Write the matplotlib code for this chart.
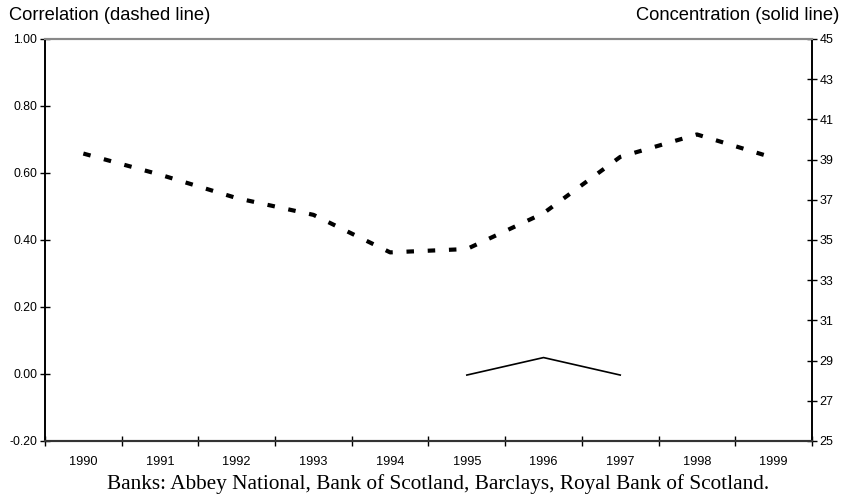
import matplotlib
matplotlib.use('Agg')
import matplotlib.pyplot as plt
import numpy as np

# Data
years = ['1990', '1991', '1992', '1993', '1994', '1995', '1996', '1997', '1998', '1999']
correlation = [0.658, 0.595, 0.525, 0.475, 0.363, 0.373, 0.48, 0.648, 0.715, 0.645]
conc_years = ['1995', '1996', '1997']
concentration = [28.28, 29.15, 28.28]

plt.rcParams['font.family'] = ['Liberation Sans', 'DejaVu Sans']

fig = plt.figure(figsize=(8.41, 5.03), dpi=100)
ax = fig.add_axes([0.0535, 0.1233, 0.912, 0.7992])
ax2 = ax.twinx()

x = np.arange(len(years))
ax.plot(x, correlation, color='black', lw=3.0, linestyle=(0, (1.8, 3.3)),
        dash_capstyle='butt', solid_joinstyle='miter')

xc = [years.index(y) for y in conc_years]
ax2.plot(xc, concentration, color='black', lw=1.2)

# axes ranges
ax.set_xlim(-0.5, len(years) - 0.5)
ax.set_ylim(-0.2, 1.0)
ax2.set_ylim(25, 45)

# left ticks
ax.set_yticks(np.arange(-0.2, 1.01, 0.2))
ax.set_yticklabels(['%.2f' % v for v in np.arange(-0.2, 1.01, 0.2)])
ax.tick_params(axis='y', direction='inout', length=7, width=1, labelsize=8.8, pad=2)

# right ticks
ax2.set_yticks(np.arange(25, 46, 2))
ax2.tick_params(axis='y', direction='inout', length=7, width=1, labelsize=9, pad=2)

# categories: ticks between, labels at centres
ax.set_xticks(np.arange(-0.5, len(years), 1.0))
ax.set_xticklabels([])
ax.set_xticks(x, minor=True)
ax.set_xticklabels(years, minor=True)
ax.tick_params(axis='x', which='major', direction='inout', length=7, width=1)
ax.tick_params(axis='x', which='minor', length=0, labelsize=9.2, pad=11)

for a in (ax, ax2):
    a.spines['top'].set_color('#888888')
    a.spines['top'].set_linewidth(1.5)
    a.spines['bottom'].set_color('#333333')
    a.spines['bottom'].set_linewidth(1.5)
    a.spines['left'].set_linewidth(1.2)
    a.spines['right'].set_linewidth(1.2)

fig.text(0.011, 0.953, 'Correlation (dashed line)', fontsize=13.2, ha='left', va='bottom')
fig.text(0.998, 0.953, 'Concentration (solid line)', fontsize=13.2, ha='right', va='bottom')
fig.text(0.521, 0.018, 'Banks: Abbey National, Bank of Scotland, Barclays, Royal Bank of Scotland.',
         fontsize=15.3, ha='center', va='bottom', family=['Liberation Serif', 'DejaVu Serif'])

fig.savefig('out.png', dpi=100, facecolor='white')
